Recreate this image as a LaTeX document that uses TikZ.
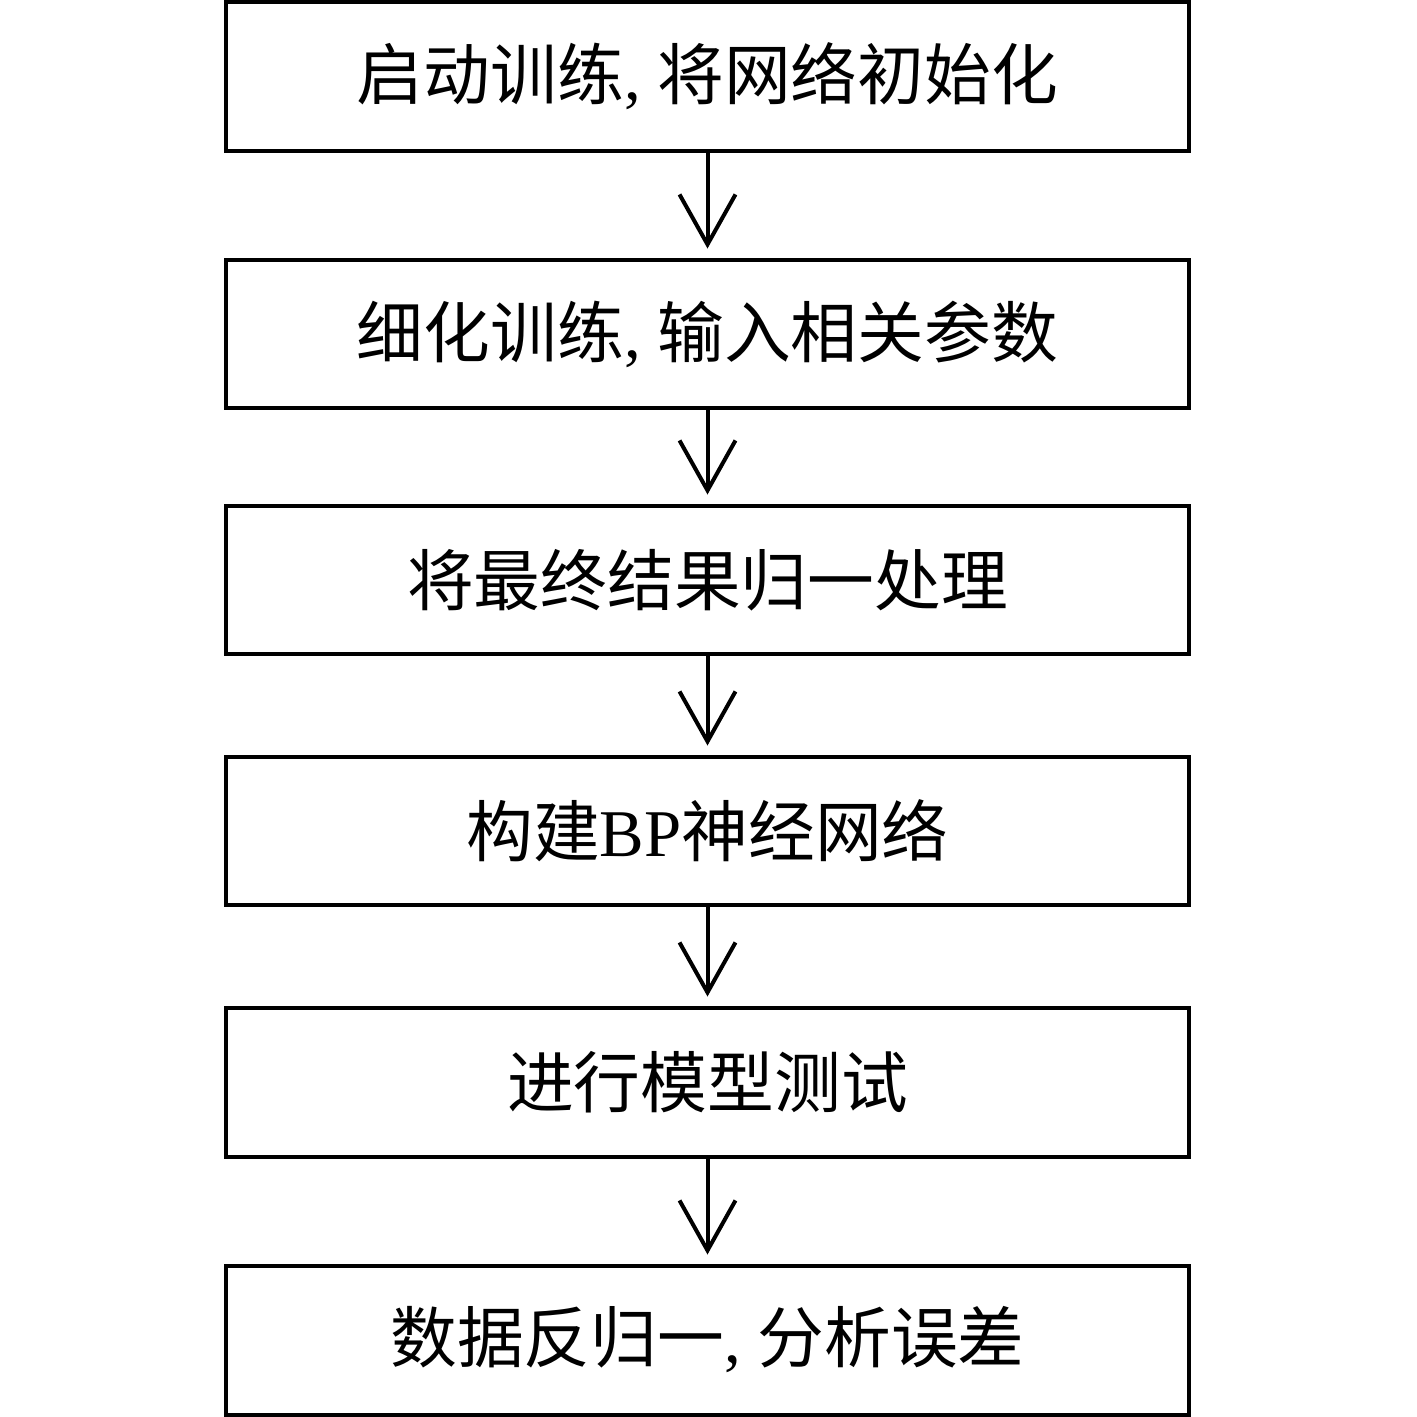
\documentclass[tikz,border=0pt]{standalone}
\usepackage{fontspec}
\setmainfont{Liberation Serif}
\newfontfamily\cjk{Noto Sans CJK SC}
\usetikzlibrary{arrows.meta, positioning}

\begin{document}
\begin{tikzpicture}[x=0.02cm, y=-0.02cm, font=\fontsize{38}{42}\selectfont]
	\def\W{19.26cm}
	\def\H{2.98cm}
	\tikzset{
		stepbox/.style={draw, line width=0.08cm, rectangle, minimum width=\W, minimum height=\H, inner sep=0pt},
		flow/.style={line width=0.08cm, -{Straight Barb[length=1cm, width=1.12cm, line width=0.08cm]}, shorten >=0.18cm}
	}
	\useasboundingbox (0,0) rectangle (1417,1417);

	\node[stepbox] (init)  at (707.5,76.5) {{\cjk 启动训练}, {\cjk 将网络初始化}};
	\node[stepbox] (param) at (707.5,334)  {{\cjk 细化训练}, {\cjk 输入相关参数}};
	\node[stepbox] (norm)  at (707.5,580)  {\cjk 将最终结果归一处理};
	\node[stepbox] (bp)    at (707.5,831)  {{\cjk 构建}BP{\cjk 神经网络}};
	\node[stepbox] (test)  at (707.5,1082) {\cjk 进行模型测试};
	\node[stepbox] (error) at (707.5,1340) {{\cjk 数据反归一}, {\cjk 分析误差}};

	\draw[flow] (init) -- (param);
	\draw[flow] (param) -- (norm);
	\draw[flow] (norm) -- (bp);
	\draw[flow] (bp) -- (test);
	\draw[flow] (test) -- (error);
\end{tikzpicture}
\end{document}
